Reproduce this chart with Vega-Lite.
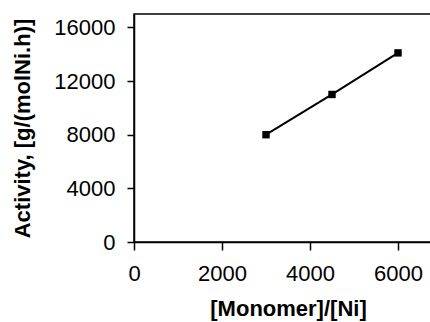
{
  "$schema": "https://vega.github.io/schema/vega-lite/v6.json",
  "autosize": "none",
  "padding": {"left": 134, "top": 14, "right": 0, "bottom": 80},
  "width": 308,
  "height": 228,
  "background": "white",
  "config": {
    "view": {"stroke": "black", "strokeWidth": 1.5},
    "font": "Liberation Sans"
  },
  "data": {
    "values": [
      {"ratio": 3000, "activity": 8000},
      {"ratio": 4500, "activity": 11000},
      {"ratio": 6000, "activity": 14100}
    ]
  },
  "encoding": {
    "x": {
      "field": "ratio", "type": "quantitative",
      "scale": {"domain": [0, 7000], "nice": false},
      "axis": {
        "title": "[Monomer]/[Ni]", "values": [0, 2000, 4000, 6000], "format": "d",
        "grid": false, "domainColor": "black", "domainWidth": 1.5,
        "tickColor": "black", "tickWidth": 1.5, "tickSize": 8,
        "labelFontSize": 22, "labelColor": "black", "labelPadding": 13,
        "labelFlush": false, "labelOverlap": false,
        "titleFontSize": 22, "titleFontWeight": "bold", "titleColor": "black",
        "titlePadding": 14
      }
    },
    "y": {
      "field": "activity", "type": "quantitative",
      "scale": {"domain": [0, 17000], "nice": false},
      "axis": {
        "title": "Activity, [g/(molNi.h)]", "values": [0, 4000, 8000, 12000, 16000], "format": "d",
        "grid": false, "domainColor": "black", "domainWidth": 1.5,
        "tickColor": "black", "tickWidth": 1.5, "tickSize": 7,
        "labelFontSize": 22, "labelColor": "black", "labelPadding": 12,
        "labelFlush": false, "labelOverlap": false,
        "titleFontSize": 22, "titleFontWeight": "bold", "titleColor": "black",
        "titlePadding": 19
      }
    }
  },
  "layer": [
    {"mark": {"type": "line", "color": "black", "strokeWidth": 2}},
    {"mark": {"type": "point", "shape": "square", "filled": true, "color": "black", "size": 55, "opacity": 1}}
  ]
}
